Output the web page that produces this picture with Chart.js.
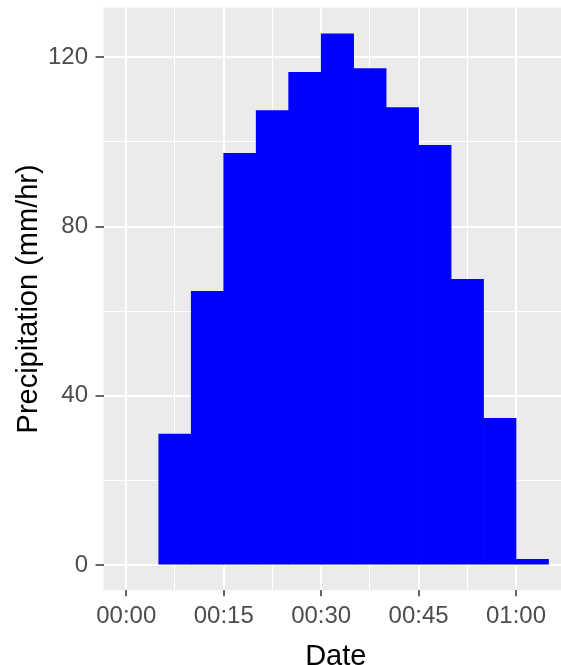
<!DOCTYPE html>
<html lang="en">
<head>
<meta charset="UTF-8">
<title>Precipitation (mm/hr)</title>
<script src="https://cdn.jsdelivr.net/npm/chart.js@4.4.0/dist/chart.umd.min.js"></script>
<style>
    html, body { margin: 0; padding: 0; background: #ffffff; overflow: hidden; }
    #wrap { position: absolute; left: 0; top: 0; }
</style>
</head>
<body>
<div id="wrap"><canvas id="rainChart" width="572" height="680"></canvas></div>
<script>
    // 5-minute rainfall blocks (start minute after 00:00) and intensity in mm/hr
    const startMinutes = [5, 10, 15, 20, 25, 30, 35, 40, 45, 50, 55, 60];
    const precipitation = [31.0, 64.7, 97.3, 107.4, 116.4, 125.5, 117.3, 108.1, 99.2, 67.5, 34.7, 1.4];
    const binMinutes = 5;

    const xMajorTicks = [0, 15, 30, 45, 60];
    const xTickLabels = ['00:00', '00:15', '00:30', '00:45', '01:00'];
    const xMinorTicks = [7.5, 22.5, 37.5, 52.5, 67.5];
    const yMajorTicks = [0, 40, 80, 120];
    const yMinorTicks = [20, 60, 100];

    Chart.defaults.font.family = '"Liberation Sans", Arial, sans-serif';

    // grey ggplot-like panel behind the grid
    const panelBackground = {
        id: 'panelBackground',
        beforeDraw(chart) {
            const area = chart.chartArea;
            const ctx = chart.ctx;
            ctx.save();
            ctx.fillStyle = '#EBEBEB';
            ctx.fillRect(area.left, area.top, area.right - area.left, area.bottom - area.top);
            ctx.restore();
        }
    };

    const isXMajor = v => xMajorTicks.indexOf(v) >= 0;
    const isYMajor = v => yMajorTicks.indexOf(v) >= 0;

    new Chart(document.getElementById('rainChart'), {
        type: 'bar',
        data: {
            datasets: [{
                label: 'Precipitation (mm/hr)',
                data: startMinutes.map((s, i) => ({ x: s + binMinutes / 2, y: precipitation[i] })),
                backgroundColor: '#0000FF',
                borderWidth: 0,
                barPercentage: 1,
                categoryPercentage: 1
            }]
        },
        options: {
            responsive: false,
            animation: false,
            devicePixelRatio: 1,
            layout: { padding: { left: 0, top: 7, right: 4, bottom: 9 } },
            plugins: {
                legend: { display: false },
                tooltip: { enabled: false }
            },
            scales: {
                x: {
                    type: 'linear',
                    min: -3.5,
                    max: 68,
                    offset: false,
                    afterBuildTicks: axis => {
                        axis.ticks = xMajorTicks.concat(xMinorTicks)
                            .sort((a, b) => a - b)
                            .map(v => ({ value: v }));
                    },
                    ticks: {
                        autoSkip: false,
                        maxRotation: 0,
                        padding: 6,
                        color: '#4D4D4D',
                        font: { size: 24 },
                        callback: v => isXMajor(v) ? xTickLabels[xMajorTicks.indexOf(v)] : ''
                    },
                    grid: {
                        offset: false,
                        color: '#FFFFFF',
                        lineWidth: c => isXMajor(c.tick.value) ? 2 : 1,
                        tickLength: 6,
                        tickWidth: 1.5,
                        tickColor: c => isXMajor(c.tick.value) ? '#333333' : 'rgba(0,0,0,0)'
                    },
                    border: { display: false },
                    title: {
                        display: true,
                        text: 'Date',
                        color: '#000000',
                        font: { size: 29, lineHeight: 1 },
                        padding: { top: 5, bottom: 0 }
                    }
                },
                y: {
                    min: -5.9,
                    max: 131.7,
                    afterBuildTicks: axis => {
                        axis.ticks = yMajorTicks.concat(yMinorTicks)
                            .sort((a, b) => a - b)
                            .map(v => ({ value: v }));
                    },
                    ticks: {
                        autoSkip: false,
                        padding: 7.5,
                        color: '#4D4D4D',
                        // tiny line height keeps the top label from padding the plot down
                        font: { size: 24, lineHeight: 0.01 },
                        callback: v => isYMajor(v) ? String(v) : ''
                    },
                    grid: {
                        color: '#FFFFFF',
                        lineWidth: c => isYMajor(c.tick.value) ? 2 : 1,
                        tickLength: 8,
                        tickWidth: 1.5,
                        tickColor: c => isYMajor(c.tick.value) ? '#333333' : 'rgba(0,0,0,0)'
                    },
                    border: { display: false },
                    title: {
                        display: true,
                        text: 'Precipitation (mm/hr)',
                        color: '#000000',
                        font: { size: 29, lineHeight: 1 },
                        padding: { top: 14, bottom: -2.5 }
                    }
                }
            }
        },
        plugins: [panelBackground]
    });
</script>
</body>
</html>
